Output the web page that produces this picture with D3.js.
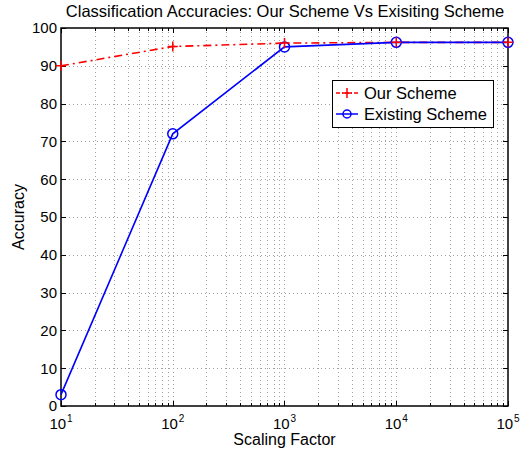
<!DOCTYPE html>
<html>
<head>
<meta charset="utf-8">
<script src="https://cdn.jsdelivr.net/npm/d3@7"></script>
<style>
  body { margin: 0; background: #fff; }
  text { font-family: "Liberation Sans", Arial, sans-serif; fill: #000; }
</style>
</head>
<body>
<div id="plot"></div>
<script>
const scaling = [10, 100, 1000, 10000, 100000];
const ourScheme = [90, 95.1, 96, 96.2, 96.2];
const existingScheme = [3, 72, 95, 96.2, 96.2];
const yTicks = [0, 10, 20, 30, 40, 50, 60, 70, 80, 90, 100];
const xExponents = [1, 2, 3, 4, 5];

const margin = { top: 28, right: 13, bottom: 45, left: 61 };
const width = 521 - margin.left - margin.right;
const height = 451 - margin.top - margin.bottom;

const root = d3.select("#plot")
  .append("svg")
  .attr("width", 521)
  .attr("height", 451);

const svg = root.append("g")
  .attr("transform", `translate(${margin.left},${margin.top})`);

const xScale = d3.scaleLog().domain([10, 100000]).range([0, width]);
const yScale = d3.scaleLinear().domain([0, 100]).range([height, 0]);

// minor log positions
const minor = [];
for (let e = 1; e < 5; e++) {
  for (let k = 2; k <= 9; k++) minor.push(k * Math.pow(10, e));
}
const major = xExponents.map(e => Math.pow(10, e));

// grid
const grid = svg.append("g")
  .attr("stroke", "#a0a0a0")
  .attr("stroke-width", 1)
  .attr("stroke-dasharray", "1,3");

grid.selectAll(".vx")
  .data(minor.concat(major.slice(1, 4)))
  .enter().append("line")
  .attr("x1", d => Math.round(xScale(d)) + 0.5)
  .attr("x2", d => Math.round(xScale(d)) + 0.5)
  .attr("y1", 0)
  .attr("y2", height);

grid.selectAll(".hy")
  .data(yTicks.slice(1, -1))
  .enter().append("line")
  .attr("x1", 0)
  .attr("x2", width)
  .attr("y1", d => Math.round(yScale(d)) + 0.5)
  .attr("y2", d => Math.round(yScale(d)) + 0.5);

// inward ticks on all four sides
const ticks = svg.append("g").attr("stroke", "#000").attr("stroke-width", 1);
const xTickData = major.map(v => ({ v, len: 5 })).concat(minor.map(v => ({ v, len: 3 })));
[0, height].forEach(y0 => {
  const dir = y0 === 0 ? 1 : -1;
  ticks.selectAll(null)
    .data(xTickData)
    .enter().append("line")
    .attr("x1", d => Math.round(xScale(d.v)) + 0.5)
    .attr("x2", d => Math.round(xScale(d.v)) + 0.5)
    .attr("y1", y0)
    .attr("y2", d => y0 + dir * d.len);
});
[0, width].forEach(x0 => {
  const dir = x0 === 0 ? 1 : -1;
  ticks.selectAll(null)
    .data(yTicks)
    .enter().append("line")
    .attr("y1", d => Math.round(yScale(d)) + 0.5)
    .attr("y2", d => Math.round(yScale(d)) + 0.5)
    .attr("x1", x0)
    .attr("x2", x0 + dir * 5);
});

// box
svg.append("rect")
  .attr("x", 0)
  .attr("y", 0)
  .attr("width", width)
  .attr("height", height)
  .attr("fill", "none")
  .attr("stroke", "#000")
  .attr("stroke-width", 1.5);

// y tick labels
svg.selectAll(".ylab")
  .data(yTicks)
  .enter().append("text")
  .attr("x", -4)
  .attr("y", d => yScale(d))
  .attr("dy", "0.36em")
  .attr("text-anchor", "end")
  .style("font-size", "15px")
  .text(d => d);

// x tick labels with superscripts
const xl = svg.selectAll(".xlab")
  .data(xExponents)
  .enter().append("text")
  .attr("x", d => xScale(Math.pow(10, d)))
  .attr("y", height + 23)
  .attr("text-anchor", "middle")
  .style("font-size", "15px");
xl.append("tspan").text("10");
xl.append("tspan")
  .attr("dy", -7)
  .attr("dx", 1)
  .style("font-size", "10px")
  .text(d => d);

// lines
const line = d3.line()
  .x(d => xScale(d[0]))
  .y(d => yScale(d[1]));

const ourPts = scaling.map((s, i) => [s, ourScheme[i]]);
const exPts = scaling.map((s, i) => [s, existingScheme[i]]);

svg.append("path")
  .datum(ourPts)
  .attr("fill", "none")
  .attr("stroke", "#ff0000")
  .attr("stroke-width", 1.6)
  .attr("stroke-dasharray", "8,4,2,4")
  .attr("d", line);

svg.append("path")
  .datum(exPts)
  .attr("fill", "none")
  .attr("stroke", "#0000ff")
  .attr("stroke-width", 1.6)
  .attr("d", line);

svg.selectAll(".circ")
  .data(exPts)
  .enter().append("circle")
  .attr("cx", d => xScale(d[0]))
  .attr("cy", d => yScale(d[1]))
  .attr("r", 5)
  .attr("fill", "none")
  .attr("stroke", "#0000ff")
  .attr("stroke-width", 1.5);

svg.selectAll(".plus")
  .data(ourPts)
  .enter().append("path")
  .attr("transform", d => `translate(${xScale(d[0])},${yScale(d[1])})`)
  .attr("d", "M-5,0H5M0,-5V5")
  .attr("fill", "none")
  .attr("stroke", "#ff0000")
  .attr("stroke-width", 1.5);

// legend
const legend = root.append("g").attr("transform", "translate(332,80)");
legend.append("rect")
  .attr("x", 0.5).attr("y", 0.5)
  .attr("width", 161).attr("height", 47)
  .attr("fill", "#fff")
  .attr("stroke", "#000")
  .attr("stroke-width", 1);

const entries = [
  { name: "Our Scheme", color: "#ff0000", marker: "plus", dash: "4,2,1,2" },
  { name: "Existing Scheme", color: "#0000ff", marker: "circle", dash: null }
];
entries.forEach((e, i) => {
  const y = 13 + i * 21;
  legend.append("line")
    .attr("x1", 4).attr("x2", 26)
    .attr("y1", y).attr("y2", y)
    .attr("stroke", e.color)
    .attr("stroke-width", 1.5)
    .attr("stroke-dasharray", e.dash);
  if (e.marker === "plus") {
    legend.append("path")
      .attr("transform", `translate(15,${y})`)
      .attr("d", "M-5,0H5M0,-5V5")
      .attr("stroke", e.color)
      .attr("stroke-width", 1.5);
  } else {
    legend.append("circle")
      .attr("cx", 15).attr("cy", y).attr("r", 4)
      .attr("fill", "none")
      .attr("stroke", e.color)
      .attr("stroke-width", 1.5);
  }
  legend.append("text")
    .attr("x", 32)
    .attr("y", y)
    .attr("dy", "0.36em")
    .style("font-size", "16.5px")
    .text(e.name);
});

// title and axis labels
root.append("text")
  .attr("x", 285)
  .attr("y", 17)
  .attr("text-anchor", "middle")
  .style("font-size", "16.5px")
  .text("Classification Accuracies: Our Scheme Vs Exisiting Scheme");

root.append("text")
  .attr("x", margin.left + width / 2)
  .attr("y", 445)
  .attr("text-anchor", "middle")
  .style("font-size", "16px")
  .text("Scaling Factor");

root.append("text")
  .attr("transform", `translate(24,${margin.top + height / 2}) rotate(-90)`)
  .attr("text-anchor", "middle")
  .style("font-size", "16px")
  .text("Accuracy");
</script>
</body>
</html>
